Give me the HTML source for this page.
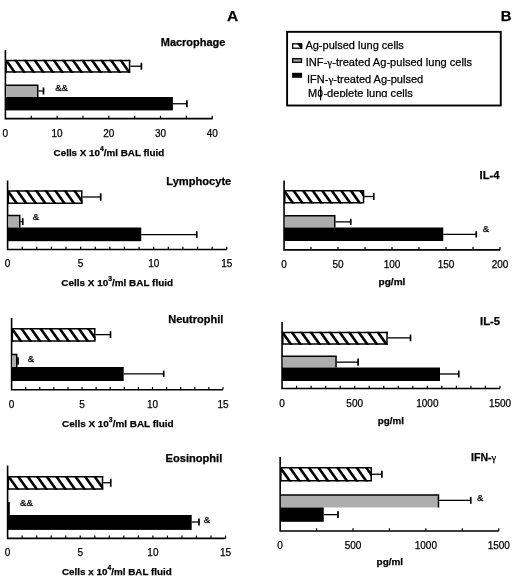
<!DOCTYPE html>
<html><head><meta charset="utf-8"><style>
html,body{margin:0;padding:0;background:#fff;}
svg{display:block;font-family:"Liberation Sans", sans-serif;will-change:transform;}
text{stroke:#000;stroke-width:0.25px;}
</style></head><body>
<svg width="520" height="581" viewBox="0 0 520 581">
<rect width="520" height="581" fill="#fff"/>
<text x="227.00" y="21.20" font-size="15.5" font-weight="bold" text-anchor="start">A</text>
<text x="500.70" y="20.80" font-size="14.8" font-weight="bold" text-anchor="start">B</text>
<path d="M5.4,50V118.65H212.6" fill="none" stroke="#000" stroke-width="1.6" stroke-linejoin="miter"/>
<line x1="31.25" y1="115.85000000000001" x2="31.25" y2="118.65" stroke="#000" stroke-width="1.2"/>
<line x1="57.10" y1="115.85000000000001" x2="57.10" y2="118.65" stroke="#000" stroke-width="1.2"/>
<line x1="82.95" y1="115.85000000000001" x2="82.95" y2="118.65" stroke="#000" stroke-width="1.2"/>
<line x1="108.80" y1="115.85000000000001" x2="108.80" y2="118.65" stroke="#000" stroke-width="1.2"/>
<line x1="134.65" y1="115.85000000000001" x2="134.65" y2="118.65" stroke="#000" stroke-width="1.2"/>
<line x1="160.50" y1="115.85000000000001" x2="160.50" y2="118.65" stroke="#000" stroke-width="1.2"/>
<line x1="186.35" y1="115.85000000000001" x2="186.35" y2="118.65" stroke="#000" stroke-width="1.2"/>
<line x1="212.20" y1="115.85000000000001" x2="212.20" y2="118.65" stroke="#000" stroke-width="1.2"/>
<rect x="6.15" y="60.55" width="123.40" height="11.40" fill="#fff"/>
<clipPath id="hc1"><rect x="5.4" y="59.8" width="124.90" height="12.90"/></clipPath>
<path clip-path="url(#hc1)" d="M-34.72,58.8L-31.52,58.8L-20.94,73.7L-24.14,73.7ZM-25.17,58.8L-21.97,58.8L-11.39,73.7L-14.59,73.7ZM-15.62,58.8L-12.42,58.8L-1.84,73.7L-5.04,73.7ZM-6.07,58.8L-2.87,58.8L7.71,73.7L4.51,73.7ZM3.48,58.8L6.68,58.8L17.26,73.7L14.06,73.7ZM13.03,58.8L16.23,58.8L26.81,73.7L23.61,73.7ZM22.58,58.8L25.78,58.8L36.36,73.7L33.16,73.7ZM32.13,58.8L35.33,58.8L45.91,73.7L42.71,73.7ZM41.68,58.8L44.88,58.8L55.46,73.7L52.26,73.7ZM51.23,58.8L54.43,58.8L65.01,73.7L61.81,73.7ZM60.78,58.8L63.98,58.8L74.56,73.7L71.36,73.7ZM70.33,58.8L73.53,58.8L84.11,73.7L80.91,73.7ZM79.88,58.8L83.08,58.8L93.66,73.7L90.46,73.7ZM89.43,58.8L92.63,58.8L103.21,73.7L100.01,73.7ZM98.98,58.8L102.18,58.8L112.76,73.7L109.56,73.7ZM108.53,58.8L111.73,58.8L122.31,73.7L119.11,73.7ZM118.08,58.8L121.28,58.8L131.86,73.7L128.66,73.7ZM127.63,58.8L130.83,58.8L141.41,73.7L138.21,73.7ZM137.18,58.8L140.38,58.8L150.96,73.7L147.76,73.7ZM146.73,58.8L149.93,58.8L160.51,73.7L157.31,73.7ZM156.28,58.8L159.48,58.8L170.06,73.7L166.86,73.7Z" fill="#000"/>
<rect x="6.15" y="60.55" width="123.40" height="11.40" fill="none" stroke="#000" stroke-width="1.5"/>
<line x1="130.3" y1="66.25" x2="141.4" y2="66.25" stroke="#000" stroke-width="1.3"/>
<line x1="141.4" y1="62.75" x2="141.4" y2="69.75" stroke="#000" stroke-width="1.7"/>
<rect x="6.15" y="85.25" width="31.60" height="11.75" fill="#adadad"/>
<path d="M5.4,85.25H37.75V97" fill="none" stroke="#000" stroke-width="1.5"/>
<line x1="38.5" y1="91.0" x2="43.5" y2="91.0" stroke="#000" stroke-width="1.3"/>
<line x1="43.5" y1="87.5" x2="43.5" y2="94.5" stroke="#000" stroke-width="1.7"/>
<rect x="5.4" y="97" width="167.50" height="13.40" fill="#000"/>
<line x1="172.9" y1="103.75" x2="186.9" y2="103.75" stroke="#000" stroke-width="1.3"/>
<line x1="186.9" y1="100.25" x2="186.9" y2="107.25" stroke="#000" stroke-width="1.7"/>
<text x="55.15" y="91.08" font-size="9.6" text-anchor="start">&amp;&amp;</text>
<text x="160.80" y="45.80" font-size="11" font-weight="bold" text-anchor="start" textLength="64.50" lengthAdjust="spacingAndGlyphs">Macrophage</text>
<text x="5.40" y="136.50" font-size="10" text-anchor="middle">0</text>
<text x="57.10" y="136.50" font-size="10" text-anchor="middle">10</text>
<text x="108.80" y="136.50" font-size="10" text-anchor="middle">20</text>
<text x="160.50" y="136.50" font-size="10" text-anchor="middle">30</text>
<text x="212.20" y="136.50" font-size="10" text-anchor="middle">40</text>
<text x="53.60" y="155.80" font-size="9.6" font-weight="bold" text-anchor="start" textLength="110.60" lengthAdjust="spacingAndGlyphs">Cells X 10<tspan font-size="6.6" dy="-5">4</tspan><tspan dy="5">/ml BAL fluid</tspan></text>
<path d="M7.6,180.5V249.5H226.8" fill="none" stroke="#000" stroke-width="1.6" stroke-linejoin="miter"/>
<line x1="22.21" y1="246.7" x2="22.21" y2="249.5" stroke="#000" stroke-width="1.2"/>
<line x1="36.82" y1="246.7" x2="36.82" y2="249.5" stroke="#000" stroke-width="1.2"/>
<line x1="51.43" y1="246.7" x2="51.43" y2="249.5" stroke="#000" stroke-width="1.2"/>
<line x1="66.04" y1="246.7" x2="66.04" y2="249.5" stroke="#000" stroke-width="1.2"/>
<line x1="80.65" y1="246.7" x2="80.65" y2="249.5" stroke="#000" stroke-width="1.2"/>
<line x1="95.26" y1="246.7" x2="95.26" y2="249.5" stroke="#000" stroke-width="1.2"/>
<line x1="109.87" y1="246.7" x2="109.87" y2="249.5" stroke="#000" stroke-width="1.2"/>
<line x1="124.48" y1="246.7" x2="124.48" y2="249.5" stroke="#000" stroke-width="1.2"/>
<line x1="139.09" y1="246.7" x2="139.09" y2="249.5" stroke="#000" stroke-width="1.2"/>
<line x1="153.70" y1="246.7" x2="153.70" y2="249.5" stroke="#000" stroke-width="1.2"/>
<line x1="168.31" y1="246.7" x2="168.31" y2="249.5" stroke="#000" stroke-width="1.2"/>
<line x1="182.92" y1="246.7" x2="182.92" y2="249.5" stroke="#000" stroke-width="1.2"/>
<line x1="197.53" y1="246.7" x2="197.53" y2="249.5" stroke="#000" stroke-width="1.2"/>
<line x1="212.14" y1="246.7" x2="212.14" y2="249.5" stroke="#000" stroke-width="1.2"/>
<line x1="226.75" y1="246.7" x2="226.75" y2="249.5" stroke="#000" stroke-width="1.2"/>
<rect x="8.35" y="191.0" width="73.40" height="12.25" fill="#fff"/>
<clipPath id="hc2"><rect x="7.6" y="190.25" width="74.90" height="13.75"/></clipPath>
<path clip-path="url(#hc2)" d="M-33.16,189.25L-29.96,189.25L-18.77,205L-21.98,205ZM-23.61,189.25L-20.41,189.25L-9.23,205L-12.43,205ZM-14.06,189.25L-10.86,189.25L0.32,205L-2.88,205ZM-4.51,189.25L-1.31,189.25L9.87,205L6.67,205ZM5.04,189.25L8.24,189.25L19.43,205L16.22,205ZM14.59,189.25L17.79,189.25L28.98,205L25.77,205ZM24.14,189.25L27.34,189.25L38.52,205L35.32,205ZM33.69,189.25L36.89,189.25L48.08,205L44.88,205ZM43.24,189.25L46.44,189.25L57.63,205L54.43,205ZM52.79,189.25L55.99,189.25L67.17,205L63.98,205ZM62.34,189.25L65.54,189.25L76.72,205L73.53,205ZM71.89,189.25L75.09,189.25L86.28,205L83.08,205ZM81.44,189.25L84.64,189.25L95.83,205L92.63,205ZM90.99,189.25L94.19,189.25L105.38,205L102.18,205ZM100.54,189.25L103.74,189.25L114.92,205L111.73,205Z" fill="#000"/>
<rect x="8.35" y="191.0" width="73.40" height="12.25" fill="none" stroke="#000" stroke-width="1.5"/>
<line x1="82.5" y1="197.0" x2="100.7" y2="197.0" stroke="#000" stroke-width="1.3"/>
<line x1="100.7" y1="193.3" x2="100.7" y2="200.7" stroke="#000" stroke-width="1.7"/>
<rect x="8.35" y="215.5" width="11.40" height="12.00" fill="#adadad"/>
<path d="M7.6,215.5H19.75V227.5" fill="none" stroke="#000" stroke-width="1.5"/>
<line x1="20.5" y1="221.625" x2="22.75" y2="221.625" stroke="#000" stroke-width="1.3"/>
<line x1="22.75" y1="218.25" x2="22.75" y2="225" stroke="#000" stroke-width="1.7"/>
<rect x="7.6" y="227.5" width="133.65" height="13.70" fill="#000"/>
<line x1="141.25" y1="234.625" x2="196.75" y2="234.625" stroke="#000" stroke-width="1.3"/>
<line x1="196.75" y1="231.25" x2="196.75" y2="238" stroke="#000" stroke-width="1.7"/>
<text x="32.79" y="219.78" font-size="9.6" text-anchor="start">&amp;</text>
<text x="166.25" y="185.00" font-size="11" font-weight="bold" text-anchor="start" textLength="65.05" lengthAdjust="spacingAndGlyphs">Lymphocyte</text>
<text x="7.60" y="267.10" font-size="10" text-anchor="middle">0</text>
<text x="80.65" y="267.10" font-size="10" text-anchor="middle">5</text>
<text x="153.70" y="267.10" font-size="10" text-anchor="middle">10</text>
<text x="226.75" y="267.10" font-size="10" text-anchor="middle">15</text>
<text x="61.25" y="286.25" font-size="9.6" font-weight="bold" text-anchor="start" textLength="111.85" lengthAdjust="spacingAndGlyphs">Cells X 10<tspan font-size="6.6" dy="-5">3</tspan><tspan dy="5">/ml BAL fluid</tspan></text>
<path d="M11.6,318V389.75H223" fill="none" stroke="#000" stroke-width="1.6" stroke-linejoin="miter"/>
<line x1="25.69" y1="386.95" x2="25.69" y2="389.75" stroke="#000" stroke-width="1.2"/>
<line x1="39.78" y1="386.95" x2="39.78" y2="389.75" stroke="#000" stroke-width="1.2"/>
<line x1="53.87" y1="386.95" x2="53.87" y2="389.75" stroke="#000" stroke-width="1.2"/>
<line x1="67.96" y1="386.95" x2="67.96" y2="389.75" stroke="#000" stroke-width="1.2"/>
<line x1="82.05" y1="386.95" x2="82.05" y2="389.75" stroke="#000" stroke-width="1.2"/>
<line x1="96.14" y1="386.95" x2="96.14" y2="389.75" stroke="#000" stroke-width="1.2"/>
<line x1="110.23" y1="386.95" x2="110.23" y2="389.75" stroke="#000" stroke-width="1.2"/>
<line x1="124.32" y1="386.95" x2="124.32" y2="389.75" stroke="#000" stroke-width="1.2"/>
<line x1="138.41" y1="386.95" x2="138.41" y2="389.75" stroke="#000" stroke-width="1.2"/>
<line x1="152.50" y1="386.95" x2="152.50" y2="389.75" stroke="#000" stroke-width="1.2"/>
<line x1="166.59" y1="386.95" x2="166.59" y2="389.75" stroke="#000" stroke-width="1.2"/>
<line x1="180.68" y1="386.95" x2="180.68" y2="389.75" stroke="#000" stroke-width="1.2"/>
<line x1="194.77" y1="386.95" x2="194.77" y2="389.75" stroke="#000" stroke-width="1.2"/>
<line x1="208.86" y1="386.95" x2="208.86" y2="389.75" stroke="#000" stroke-width="1.2"/>
<line x1="222.95" y1="386.95" x2="222.95" y2="389.75" stroke="#000" stroke-width="1.2"/>
<rect x="12.35" y="328.75" width="82.40" height="12.25" fill="#fff"/>
<clipPath id="hc3"><rect x="11.6" y="328" width="83.90" height="13.75"/></clipPath>
<path clip-path="url(#hc3)" d="M-28.98,327L-25.78,327L-14.60,342.75L-17.80,342.75ZM-19.43,327L-16.23,327L-5.05,342.75L-8.25,342.75ZM-9.88,327L-6.68,327L4.50,342.75L1.30,342.75ZM-0.33,327L2.87,327L14.05,342.75L10.85,342.75ZM9.22,327L12.42,327L23.60,342.75L20.40,342.75ZM18.77,327L21.97,327L33.15,342.75L29.95,342.75ZM28.32,327L31.52,327L42.70,342.75L39.50,342.75ZM37.87,327L41.07,327L52.25,342.75L49.05,342.75ZM47.42,327L50.62,327L61.80,342.75L58.60,342.75ZM56.97,327L60.17,327L71.35,342.75L68.15,342.75ZM66.52,327L69.72,327L80.90,342.75L77.70,342.75ZM76.07,327L79.27,327L90.45,342.75L87.25,342.75ZM85.62,327L88.82,327L100.00,342.75L96.80,342.75ZM95.17,327L98.37,327L109.55,342.75L106.35,342.75ZM104.72,327L107.92,327L119.10,342.75L115.90,342.75ZM114.27,327L117.47,327L128.65,342.75L125.45,342.75Z" fill="#000"/>
<rect x="12.35" y="328.75" width="82.40" height="12.25" fill="none" stroke="#000" stroke-width="1.5"/>
<line x1="95.5" y1="334.625" x2="110.5" y2="334.625" stroke="#000" stroke-width="1.3"/>
<line x1="110.5" y1="331.25" x2="110.5" y2="338" stroke="#000" stroke-width="1.7"/>
<rect x="12.35" y="354.55" width="4.40" height="12.45" fill="#adadad"/>
<path d="M11.6,354.55H16.75V367" fill="none" stroke="#000" stroke-width="1.5"/>
<rect x="17.2" y="357.3" width="1.7" height="7.3" fill="#000"/>
<rect x="11.6" y="367" width="112.10" height="14.00" fill="#000"/>
<line x1="123.7" y1="373.8" x2="163.7" y2="373.8" stroke="#000" stroke-width="1.3"/>
<line x1="163.7" y1="370.6" x2="163.7" y2="377" stroke="#000" stroke-width="1.7"/>
<text x="27.82" y="362.15" font-size="9.6" text-anchor="start">&amp;</text>
<text x="168.30" y="322.90" font-size="11" font-weight="bold" text-anchor="start" textLength="55.00" lengthAdjust="spacingAndGlyphs">Neutrophil</text>
<text x="11.60" y="408.00" font-size="10" text-anchor="middle">0</text>
<text x="82.05" y="408.00" font-size="10" text-anchor="middle">5</text>
<text x="152.50" y="408.00" font-size="10" text-anchor="middle">10</text>
<text x="222.95" y="408.00" font-size="10" text-anchor="middle">15</text>
<text x="62.00" y="427.00" font-size="9.6" font-weight="bold" text-anchor="start" textLength="111.60" lengthAdjust="spacingAndGlyphs">Cells X 10<tspan font-size="6.6" dy="-5">3</tspan><tspan dy="5">/ml BAL fluid</tspan></text>
<path d="M7.6,465.5V538.4H225.5" fill="none" stroke="#000" stroke-width="1.6" stroke-linejoin="miter"/>
<line x1="22.13" y1="535.6" x2="22.13" y2="538.4" stroke="#000" stroke-width="1.2"/>
<line x1="36.66" y1="535.6" x2="36.66" y2="538.4" stroke="#000" stroke-width="1.2"/>
<line x1="51.19" y1="535.6" x2="51.19" y2="538.4" stroke="#000" stroke-width="1.2"/>
<line x1="65.72" y1="535.6" x2="65.72" y2="538.4" stroke="#000" stroke-width="1.2"/>
<line x1="80.25" y1="535.6" x2="80.25" y2="538.4" stroke="#000" stroke-width="1.2"/>
<line x1="94.78" y1="535.6" x2="94.78" y2="538.4" stroke="#000" stroke-width="1.2"/>
<line x1="109.31" y1="535.6" x2="109.31" y2="538.4" stroke="#000" stroke-width="1.2"/>
<line x1="123.84" y1="535.6" x2="123.84" y2="538.4" stroke="#000" stroke-width="1.2"/>
<line x1="138.37" y1="535.6" x2="138.37" y2="538.4" stroke="#000" stroke-width="1.2"/>
<line x1="152.90" y1="535.6" x2="152.90" y2="538.4" stroke="#000" stroke-width="1.2"/>
<line x1="167.43" y1="535.6" x2="167.43" y2="538.4" stroke="#000" stroke-width="1.2"/>
<line x1="181.96" y1="535.6" x2="181.96" y2="538.4" stroke="#000" stroke-width="1.2"/>
<line x1="196.49" y1="535.6" x2="196.49" y2="538.4" stroke="#000" stroke-width="1.2"/>
<line x1="211.02" y1="535.6" x2="211.02" y2="538.4" stroke="#000" stroke-width="1.2"/>
<line x1="225.55" y1="535.6" x2="225.55" y2="538.4" stroke="#000" stroke-width="1.2"/>
<rect x="8.35" y="476.75" width="94.15" height="12.25" fill="#fff"/>
<clipPath id="hc4"><rect x="7.6" y="476" width="95.65" height="13.75"/></clipPath>
<path clip-path="url(#hc4)" d="M-32.23,475L-29.03,475L-17.85,490.75L-21.05,490.75ZM-22.68,475L-19.48,475L-8.30,490.75L-11.50,490.75ZM-13.13,475L-9.93,475L1.25,490.75L-1.95,490.75ZM-3.58,475L-0.38,475L10.80,490.75L7.60,490.75ZM5.97,475L9.17,475L20.35,490.75L17.15,490.75ZM15.52,475L18.72,475L29.90,490.75L26.70,490.75ZM25.07,475L28.27,475L39.45,490.75L36.25,490.75ZM34.62,475L37.82,475L49.00,490.75L45.80,490.75ZM44.17,475L47.37,475L58.55,490.75L55.35,490.75ZM53.72,475L56.92,475L68.10,490.75L64.90,490.75ZM63.27,475L66.47,475L77.65,490.75L74.45,490.75ZM72.82,475L76.02,475L87.20,490.75L84.00,490.75ZM82.37,475L85.57,475L96.75,490.75L93.55,490.75ZM91.92,475L95.12,475L106.30,490.75L103.10,490.75ZM101.47,475L104.67,475L115.85,490.75L112.65,490.75ZM111.02,475L114.22,475L125.40,490.75L122.20,490.75ZM120.57,475L123.77,475L134.95,490.75L131.75,490.75Z" fill="#000"/>
<rect x="8.35" y="476.75" width="94.15" height="12.25" fill="none" stroke="#000" stroke-width="1.5"/>
<line x1="103.25" y1="482.75" x2="110.75" y2="482.75" stroke="#000" stroke-width="1.3"/>
<line x1="110.75" y1="478.75" x2="110.75" y2="486.75" stroke="#000" stroke-width="1.7"/>
<rect x="8" y="502" width="1.8" height="13.5" fill="#000"/>
<rect x="7.6" y="515" width="184.10" height="14.90" fill="#000"/>
<line x1="191.7" y1="522.0" x2="199" y2="522.0" stroke="#000" stroke-width="1.3"/>
<line x1="199" y1="518.5" x2="199" y2="525.5" stroke="#000" stroke-width="1.7"/>
<text x="20.00" y="505.98" font-size="9.6" text-anchor="start">&amp;&amp;</text>
<text x="203.86" y="522.51" font-size="9.6" text-anchor="start">&amp;</text>
<text x="165.50" y="461.50" font-size="11" font-weight="bold" text-anchor="start" textLength="56.80" lengthAdjust="spacingAndGlyphs">Eosinophil</text>
<text x="7.60" y="556.00" font-size="10" text-anchor="middle">0</text>
<text x="80.25" y="556.00" font-size="10" text-anchor="middle">5</text>
<text x="152.90" y="556.00" font-size="10" text-anchor="middle">10</text>
<text x="225.55" y="556.00" font-size="10" text-anchor="middle">15</text>
<text x="62.00" y="575.00" font-size="9.6" font-weight="bold" text-anchor="start" textLength="109.85" lengthAdjust="spacingAndGlyphs">Cells x 10<tspan font-size="6.6" dy="-5">4</tspan><tspan dy="5">/ml BAL fluid</tspan></text>
<rect x="287.1" y="31.85" width="213.65" height="73.65" fill="none" stroke="#000" stroke-width="1.9"/>
<rect x="292.7" y="43.8" width="8.8" height="4.4" fill="#fff" stroke="#000" stroke-width="1.3"/>
<path d="M296.8,43.4L302.3,43.4L302.3,48.8L301.2,48.8Z" fill="#000"/>
<rect x="292.7" y="58.7" width="8.8" height="3.6" fill="#a0a0a0" stroke="#000" stroke-width="1.3"/>
<rect x="292.1" y="72.8" width="10" height="5" fill="#000"/>
<text x="305.40" y="49.20" font-size="11" text-anchor="start">Ag-pulsed lung cells</text>
<text x="305.80" y="65.90" font-size="11" text-anchor="start" textLength="166.20" lengthAdjust="spacingAndGlyphs">INF-<tspan font-family="Liberation Serif">γ</tspan>-treated Ag-pulsed lung cells</text>
<text x="307.00" y="82.80" font-size="11" text-anchor="start">IFN-<tspan font-family="Liberation Serif">γ</tspan>-treated Ag-pulsed</text>
<clipPath id="c1"><rect x="300" y="85" width="150" height="12.3"/></clipPath>
<g clip-path="url(#c1)">
<text x="308.00" y="97.20" font-size="11" text-anchor="start">M</text>
<text x="323.40" y="97.20" font-size="11" text-anchor="start" textLength="89.40" lengthAdjust="spacingAndGlyphs">-deplete lung cells</text>
</g>
<ellipse cx="320.2" cy="93.3" rx="1.9" ry="3.3" fill="none" stroke="#000" stroke-width="1.1"/>
<line x1="320.6" y1="86.3" x2="320.6" y2="100.2" stroke="#000" stroke-width="1.2"/>
<path d="M284.05,180.5V249.9H500" fill="none" stroke="#000" stroke-width="1.6" stroke-linejoin="miter"/>
<line x1="311.04" y1="247.1" x2="311.04" y2="249.9" stroke="#000" stroke-width="1.2"/>
<line x1="338.03" y1="247.1" x2="338.03" y2="249.9" stroke="#000" stroke-width="1.2"/>
<line x1="365.02" y1="247.1" x2="365.02" y2="249.9" stroke="#000" stroke-width="1.2"/>
<line x1="392.01" y1="247.1" x2="392.01" y2="249.9" stroke="#000" stroke-width="1.2"/>
<line x1="419.00" y1="247.1" x2="419.00" y2="249.9" stroke="#000" stroke-width="1.2"/>
<line x1="445.99" y1="247.1" x2="445.99" y2="249.9" stroke="#000" stroke-width="1.2"/>
<line x1="472.98" y1="247.1" x2="472.98" y2="249.9" stroke="#000" stroke-width="1.2"/>
<line x1="499.97" y1="247.1" x2="499.97" y2="249.9" stroke="#000" stroke-width="1.2"/>
<rect x="284.8" y="190.75" width="78.70" height="12.00" fill="#fff"/>
<clipPath id="hc5"><rect x="284.05" y="190" width="80.20" height="13.50"/></clipPath>
<path clip-path="url(#hc5)" d="M243.12,189L246.32,189L257.33,204.5L254.13,204.5ZM252.67,189L255.87,189L266.88,204.5L263.68,204.5ZM262.22,189L265.42,189L276.43,204.5L273.23,204.5ZM271.77,189L274.97,189L285.98,204.5L282.77,204.5ZM281.32,189L284.52,189L295.53,204.5L292.32,204.5ZM290.87,189L294.07,189L305.08,204.5L301.88,204.5ZM300.42,189L303.62,189L314.63,204.5L311.43,204.5ZM309.97,189L313.17,189L324.18,204.5L320.98,204.5ZM319.52,189L322.72,189L333.73,204.5L330.52,204.5ZM329.07,189L332.27,189L343.28,204.5L340.07,204.5ZM338.62,189L341.82,189L352.83,204.5L349.62,204.5ZM348.17,189L351.37,189L362.38,204.5L359.18,204.5ZM357.72,189L360.92,189L371.93,204.5L368.73,204.5ZM367.27,189L370.47,189L381.48,204.5L378.27,204.5ZM376.82,189L380.02,189L391.03,204.5L387.82,204.5ZM386.37,189L389.57,189L400.58,204.5L397.38,204.5Z" fill="#000"/>
<rect x="284.8" y="190.75" width="78.70" height="12.00" fill="none" stroke="#000" stroke-width="1.5"/>
<line x1="364.25" y1="196.5" x2="373.75" y2="196.5" stroke="#000" stroke-width="1.3"/>
<line x1="373.75" y1="193" x2="373.75" y2="200" stroke="#000" stroke-width="1.7"/>
<rect x="284.8" y="215.75" width="49.95" height="11.75" fill="#adadad"/>
<path d="M284.05,215.75H334.75V227.5" fill="none" stroke="#000" stroke-width="1.5"/>
<line x1="335.5" y1="221.875" x2="350.75" y2="221.875" stroke="#000" stroke-width="1.3"/>
<line x1="350.75" y1="218.75" x2="350.75" y2="225" stroke="#000" stroke-width="1.7"/>
<rect x="284.05" y="227.5" width="159.20" height="13.50" fill="#000"/>
<line x1="443.25" y1="234.375" x2="476.25" y2="234.375" stroke="#000" stroke-width="1.3"/>
<line x1="476.25" y1="231.25" x2="476.25" y2="237.5" stroke="#000" stroke-width="1.7"/>
<text x="482.82" y="232.32" font-size="9.6" text-anchor="start">&amp;</text>
<text x="479.50" y="179.25" font-size="11" font-weight="bold" text-anchor="start" textLength="20.05" lengthAdjust="spacingAndGlyphs">IL-4</text>
<text x="284.05" y="267.50" font-size="10" text-anchor="middle">0</text>
<text x="338.04" y="267.50" font-size="10" text-anchor="middle">50</text>
<text x="392.03" y="267.50" font-size="10" text-anchor="middle">100</text>
<text x="446.02" y="267.50" font-size="10" text-anchor="middle">150</text>
<text x="500.01" y="267.50" font-size="10" text-anchor="middle">200</text>
<text x="378.50" y="284.90" font-size="9.8" font-weight="bold" text-anchor="start" textLength="26.90" lengthAdjust="spacingAndGlyphs">pg/ml</text>
<path d="M282.05,322V388.45H500" fill="none" stroke="#000" stroke-width="1.6" stroke-linejoin="miter"/>
<line x1="296.58" y1="385.65" x2="296.58" y2="388.45" stroke="#000" stroke-width="1.2"/>
<line x1="311.11" y1="385.65" x2="311.11" y2="388.45" stroke="#000" stroke-width="1.2"/>
<line x1="325.64" y1="385.65" x2="325.64" y2="388.45" stroke="#000" stroke-width="1.2"/>
<line x1="340.17" y1="385.65" x2="340.17" y2="388.45" stroke="#000" stroke-width="1.2"/>
<line x1="354.70" y1="385.65" x2="354.70" y2="388.45" stroke="#000" stroke-width="1.2"/>
<line x1="369.23" y1="385.65" x2="369.23" y2="388.45" stroke="#000" stroke-width="1.2"/>
<line x1="383.76" y1="385.65" x2="383.76" y2="388.45" stroke="#000" stroke-width="1.2"/>
<line x1="398.29" y1="385.65" x2="398.29" y2="388.45" stroke="#000" stroke-width="1.2"/>
<line x1="412.82" y1="385.65" x2="412.82" y2="388.45" stroke="#000" stroke-width="1.2"/>
<line x1="427.35" y1="385.65" x2="427.35" y2="388.45" stroke="#000" stroke-width="1.2"/>
<line x1="441.88" y1="385.65" x2="441.88" y2="388.45" stroke="#000" stroke-width="1.2"/>
<line x1="456.41" y1="385.65" x2="456.41" y2="388.45" stroke="#000" stroke-width="1.2"/>
<line x1="470.94" y1="385.65" x2="470.94" y2="388.45" stroke="#000" stroke-width="1.2"/>
<line x1="485.47" y1="385.65" x2="485.47" y2="388.45" stroke="#000" stroke-width="1.2"/>
<line x1="500.00" y1="385.65" x2="500.00" y2="388.45" stroke="#000" stroke-width="1.2"/>
<rect x="282.8" y="332.5" width="104.20" height="11.50" fill="#fff"/>
<clipPath id="hc6"><rect x="282.05" y="331.75" width="105.70" height="13.00"/></clipPath>
<path clip-path="url(#hc6)" d="M241.52,330.75L244.72,330.75L255.37,345.75L252.17,345.75ZM251.07,330.75L254.27,330.75L264.92,345.75L261.72,345.75ZM260.62,330.75L263.82,330.75L274.47,345.75L271.27,345.75ZM270.17,330.75L273.37,330.75L284.02,345.75L280.82,345.75ZM279.72,330.75L282.92,330.75L293.57,345.75L290.37,345.75ZM289.27,330.75L292.47,330.75L303.12,345.75L299.92,345.75ZM298.82,330.75L302.02,330.75L312.67,345.75L309.47,345.75ZM308.37,330.75L311.57,330.75L322.22,345.75L319.02,345.75ZM317.92,330.75L321.12,330.75L331.77,345.75L328.57,345.75ZM327.47,330.75L330.67,330.75L341.32,345.75L338.12,345.75ZM337.02,330.75L340.22,330.75L350.87,345.75L347.67,345.75ZM346.57,330.75L349.77,330.75L360.42,345.75L357.22,345.75ZM356.12,330.75L359.32,330.75L369.97,345.75L366.77,345.75ZM365.67,330.75L368.87,330.75L379.52,345.75L376.32,345.75ZM375.22,330.75L378.42,330.75L389.07,345.75L385.87,345.75ZM384.77,330.75L387.97,330.75L398.62,345.75L395.42,345.75ZM394.32,330.75L397.52,330.75L408.17,345.75L404.97,345.75ZM403.87,330.75L407.07,330.75L417.72,345.75L414.52,345.75ZM413.42,330.75L416.62,330.75L427.27,345.75L424.07,345.75Z" fill="#000"/>
<rect x="282.8" y="332.5" width="104.20" height="11.50" fill="none" stroke="#000" stroke-width="1.5"/>
<line x1="387.75" y1="337.875" x2="410.5" y2="337.875" stroke="#000" stroke-width="1.3"/>
<line x1="410.5" y1="334.5" x2="410.5" y2="341.25" stroke="#000" stroke-width="1.7"/>
<rect x="282.8" y="356.15" width="53.25" height="11.35" fill="#adadad"/>
<path d="M282.05,356.15H336.05V367.5" fill="none" stroke="#000" stroke-width="1.5"/>
<line x1="336.8" y1="362.15" x2="358.1" y2="362.15" stroke="#000" stroke-width="1.3"/>
<line x1="358.1" y1="358.5" x2="358.1" y2="365.8" stroke="#000" stroke-width="1.7"/>
<rect x="282.05" y="367.5" width="157.95" height="13.50" fill="#000"/>
<line x1="440" y1="374.0" x2="458.75" y2="374.0" stroke="#000" stroke-width="1.3"/>
<line x1="458.75" y1="370.5" x2="458.75" y2="377.5" stroke="#000" stroke-width="1.7"/>
<text x="480.00" y="324.50" font-size="11" font-weight="bold" text-anchor="start" textLength="20.05" lengthAdjust="spacingAndGlyphs">IL-5</text>
<text x="282.05" y="406.70" font-size="10" text-anchor="middle">0</text>
<text x="354.70" y="406.70" font-size="10" text-anchor="middle">500</text>
<text x="427.35" y="406.70" font-size="10" text-anchor="middle">1000</text>
<text x="500.00" y="406.70" font-size="10" text-anchor="middle">1500</text>
<text x="377.70" y="423.80" font-size="9.8" font-weight="bold" text-anchor="start" textLength="26.20" lengthAdjust="spacingAndGlyphs">pg/ml</text>
<path d="M280.15,457V531H498.75" fill="none" stroke="#000" stroke-width="1.6" stroke-linejoin="miter"/>
<line x1="316.58" y1="528.2" x2="316.58" y2="531" stroke="#000" stroke-width="1.2"/>
<line x1="353.01" y1="528.2" x2="353.01" y2="531" stroke="#000" stroke-width="1.2"/>
<line x1="389.44" y1="528.2" x2="389.44" y2="531" stroke="#000" stroke-width="1.2"/>
<line x1="425.87" y1="528.2" x2="425.87" y2="531" stroke="#000" stroke-width="1.2"/>
<line x1="462.30" y1="528.2" x2="462.30" y2="531" stroke="#000" stroke-width="1.2"/>
<line x1="498.73" y1="528.2" x2="498.73" y2="531" stroke="#000" stroke-width="1.2"/>
<rect x="280.9" y="467.75" width="90.35" height="13.00" fill="#fff"/>
<clipPath id="hc7"><rect x="280.15" y="467" width="91.85" height="14.50"/></clipPath>
<path clip-path="url(#hc7)" d="M239.34,466L242.54,466L254.26,482.5L251.06,482.5ZM248.89,466L252.09,466L263.81,482.5L260.61,482.5ZM258.44,466L261.64,466L273.36,482.5L270.16,482.5ZM267.99,466L271.19,466L282.91,482.5L279.71,482.5ZM277.54,466L280.74,466L292.46,482.5L289.26,482.5ZM287.09,466L290.29,466L302.01,482.5L298.81,482.5ZM296.64,466L299.84,466L311.56,482.5L308.36,482.5ZM306.19,466L309.39,466L321.11,482.5L317.91,482.5ZM315.74,466L318.94,466L330.66,482.5L327.46,482.5ZM325.29,466L328.49,466L340.21,482.5L337.01,482.5ZM334.84,466L338.04,466L349.76,482.5L346.56,482.5ZM344.39,466L347.59,466L359.31,482.5L356.11,482.5ZM353.94,466L357.14,466L368.86,482.5L365.66,482.5ZM363.49,466L366.69,466L378.41,482.5L375.21,482.5ZM373.04,466L376.24,466L387.96,482.5L384.76,482.5ZM382.59,466L385.79,466L397.51,482.5L394.31,482.5ZM392.14,466L395.34,466L407.06,482.5L403.86,482.5Z" fill="#000"/>
<rect x="280.9" y="467.75" width="90.35" height="13.00" fill="none" stroke="#000" stroke-width="1.5"/>
<line x1="372" y1="474.25" x2="381.9" y2="474.25" stroke="#000" stroke-width="1.3"/>
<line x1="381.9" y1="470.75" x2="381.9" y2="477.75" stroke="#000" stroke-width="1.7"/>
<rect x="280.9" y="495.0" width="157.60" height="12.50" fill="#adadad"/>
<path d="M280.15,495.0H438.50V507.5" fill="none" stroke="#000" stroke-width="1.5"/>
<line x1="439.25" y1="500.375" x2="470.75" y2="500.375" stroke="#000" stroke-width="1.3"/>
<line x1="470.75" y1="497" x2="470.75" y2="503.75" stroke="#000" stroke-width="1.7"/>
<rect x="280.15" y="507.5" width="43.60" height="14.30" fill="#000"/>
<line x1="323.75" y1="514.625" x2="338" y2="514.625" stroke="#000" stroke-width="1.3"/>
<line x1="338" y1="511.25" x2="338" y2="518" stroke="#000" stroke-width="1.7"/>
<text x="477.00" y="501.48" font-size="9.6" text-anchor="start">&amp;</text>
<text x="471.00" y="461.10" font-size="11" font-weight="bold" text-anchor="start" textLength="25.30" lengthAdjust="spacingAndGlyphs">IFN-<tspan font-weight="normal" font-family="Liberation Serif" font-size="11">γ</tspan></text>
<text x="280.15" y="548.60" font-size="10" text-anchor="middle">0</text>
<text x="353.02" y="548.60" font-size="10" text-anchor="middle">500</text>
<text x="425.89" y="548.60" font-size="10" text-anchor="middle">1000</text>
<text x="498.76" y="548.60" font-size="10" text-anchor="middle">1500</text>
<text x="376.60" y="565.40" font-size="9.8" font-weight="bold" text-anchor="start" textLength="26.50" lengthAdjust="spacingAndGlyphs">pg/ml</text>
</svg>
</body></html>
